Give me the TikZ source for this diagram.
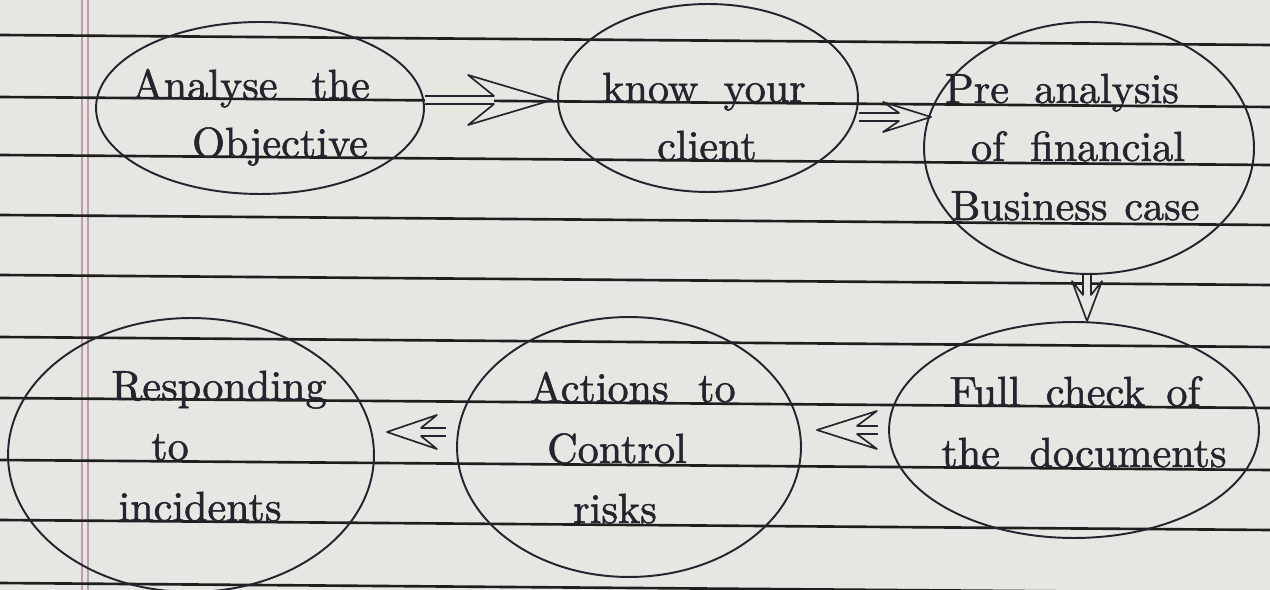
\documentclass[tikz,border=0pt]{standalone}
\usepackage{fontspec}
\newfontfamily\handfont{lmroman10-regular.otf}[FakeBold=1.3]
\usetikzlibrary{shapes.geometric,calc}
\definecolor{paper}{HTML}{E6E6E2}
\definecolor{rule}{HTML}{1E1E1E}
\definecolor{margin}{HTML}{C29AAA}
\definecolor{ink}{HTML}{24242F}
\tikzset{
  bubble/.style={ellipse, draw=ink, line width=1.1pt, inner sep=0pt},
  words/.style={anchor=base, inner sep=0pt, text=ink, font=\handfont\fontsize{24}{30}\selectfont},
  shaft/.style={draw=ink, double=paper, double distance=3.6pt, line width=0.9pt},
  headline/.style={draw=ink, line width=0.95pt, line join=round, line cap=round},
  % open arrow head: length, half width, where the shaft joins it
  pics/chev/.style n args={3}{code={
    \draw[headline] (-#3,4) -- (-#1,#2) -- (0,0) -- (-#1,-#2) -- (-#3,-4);
  }}
}
\begin{document}
\begin{tikzpicture}[x=0.02cm,y=-0.02cm]
\useasboundingbox (0,0) rectangle (1270,590);
\fill[paper] (0,0) rectangle (1270,590);
% margin rule
\draw[margin, line width=0.8pt] (82,0) -- (82,590);
\draw[margin, line width=0.8pt] (88,0) -- (88,590);
% ruled lines, slightly sloping
\foreach \y in {35,97,155,215,275,337,398,460,520,583}
  \draw[rule, line width=1.5pt] (0,\y) -- (1270,\y+10);

% bubbles
\node[bubble, minimum width=6.56cm, minimum height=3.44cm] (n1) at (260,108) {};
\node[bubble, minimum width=6.0cm, minimum height=3.76cm] (n2) at (708,98) {};
\node[bubble, minimum width=6.6cm, minimum height=5.04cm] (n3) at (1089,148) {};
\node[bubble, minimum width=7.4cm, minimum height=4.32cm] (n4) at (1074,430) {};
\node[bubble, minimum width=6.88cm, minimum height=5.2cm] (n5) at (629,447) {};
\node[bubble, minimum width=7.32cm, minimum height=5.48cm] (n6) at (191,455) {};

% texts, sitting on the ruled lines
\node[words] (t1a) at (251,99) {Analyse\hspace{0.8em}the};
\node[words] (t1b) at (280,157) {Objective};
\node[words] (t2a) at (704,102) {know\hspace{0.6em}your};
\node[words] (t2b) at (707,160) {client};
\node[words] (t3a) at (1062,103) {Pre\hspace{0.6em}analysis};
\node[words] (t3b) at (1078,161) {of\hspace{0.6em}financial};
\node[words] (t3c) at (1075,220) {Business\hspace{0.4em}case};
\node[words] (t4a) at (1075,406) {Full\hspace{0.6em}check\hspace{0.5em}of};
\node[words] (t4b) at (1084,467) {the\hspace{0.7em}documents};
\node[words] (t5a) at (633,402) {Actions\hspace{0.7em}to};
\node[words] (t5b) at (617,463) {Control};
\node[words] (t5c) at (615,523) {risks};
\node[words] (t6a) at (219,400) {Responding};
\node[words] (t6b) at (170,460) {to};
\node[words] (t6c) at (200,521) {incidents};

% connectors: double shafts ending in open heads
\coordinate (a1s) at ([yshift=0.16cm]n1.east);
\coordinate (a1e) at ([xshift=-0.1cm]n2.west |- a1s);
\draw[shaft] (a1s) -- ($(a1e)+(-58,0)$);
\pic at (a1e) {chev={84}{25}{58}};

\coordinate (a2s) at ([yshift=-0.38cm]n2.east);
\coordinate (a2e) at ([xshift=0.16cm]n3.west |- a2s);
\draw[shaft] (a2s) -- ($(a2e)+(-32,0)$);
\pic at (a2e) {chev={48}{15}{32}};

\coordinate (a3s) at ([xshift=-0.04cm]n3.south);
\coordinate (a3e) at (a3s |- n4.north);
\draw[shaft] (a3s) -- ($(a3e)+(0,-26)$);
\pic[rotate=-90] at (a3e) {chev={40}{15}{26}};

\coordinate (a4s) at ([xshift=-0.2cm]n4.west);
\coordinate (a4e) at ([xshift=0.3cm]n5.east |- a4s);
\draw[shaft] (a4s) -- ($(a4e)+(40,0)$);
\pic[rotate=180] at (a4e) {chev={60}{19}{40}};

\coordinate (a5s) at ([xshift=-0.2cm,yshift=0.3cm]n5.west);
\coordinate (a5e) at ([xshift=0.24cm]n6.east |- a5s);
\draw[shaft] (a5s) -- ($(a5e)+(34,0)$);
\pic[rotate=180] at (a5e) {chev={50}{17}{34}};
\end{tikzpicture}
\end{document}
